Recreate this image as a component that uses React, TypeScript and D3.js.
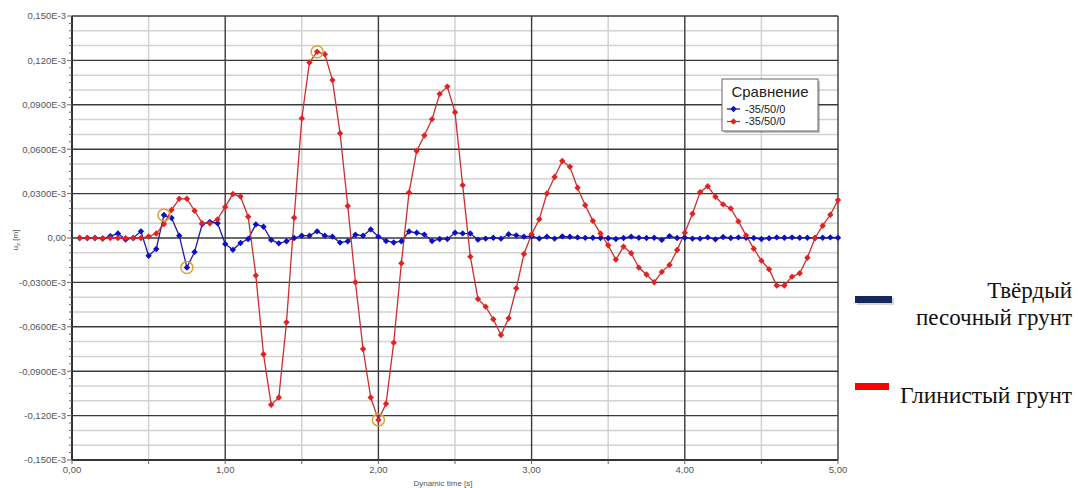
import * as d3 from "d3";

// time step 0.05 s, values in 1e-6 m (axis shows E-3 m)
const times = d3.range(1, 101).map((i) => +(i * 0.05).toFixed(2));

const sandValues = [
  0, 0, 0, -0.4, 1.3, 3, -1, 0, 4.5, -12,
  -7.4, 15.5, 13.5, 1.6, -20, -9.4, 9.4, 10.8, 10, -4,
  -8, -3.4, -0.7, 9.2, 7.6, -1.3, -3.6, -2.2, 0, 1.6,
  1.6, 4.5, 1.6, 0.9, -3.1, -2.2, 2.2, 1.6, 5.8, 0.9,
  -2, -3, -2.2, 4.4, 3.5, 2.3, -2, -0.7, -0.7, 3.5,
  3.1, 3, -1.1, -0.4, 0.2, -0.4, 2.5, 1.8, 0.9, 1.2,
  -0.3, 0.9, -0.4, 1.1, 0.8, 0.4, 0.1, 0.2, 0, -0.2,
  -0.7, 0, 0.9, 0.2, 0, 0.2, -1.3, 1.3, 0, 0.2,
  -0.4, -0.4, 0.4, -0.9, 0.7, 0, 0.4, 0.2, 0, -0.7,
  -0.2, 0.4, 0.2, 0.4, 0.2, 0.2, 0, 0.2, 0.4, 0.2,
];

const clayValues = [
  0, 0, 0, -0.2, 0, 0, -0.2, 0, 0, 1,
  3, 9.4, 19, 26.5, 26.5, 18.4, 10, 10, 12.6, 21,
  29.7, 28, 14.4, -25.3, -78.5, -112.7, -107.8, -57, 13.7, 80.8,
  118.6, 125.8, 124.2, 106.7, 70.7, 21.6, -29.9, -75, -107.8, -122.9,
  -112, -70.7, -17.1, 30.7, 58.8, 69.3, 80.3, 97.3, 102.3, 85,
  35.7, -12.6, -41.2, -46.4, -54.9, -65.5, -54.2, -34, -10.8, 2.5,
  12.6, 30.1, 41.2, 52, 48.1, 34, 22.1, 11.6, 3, -4.9,
  -14.6, -5.8, -10.3, -20, -24.7, -29.9, -22.9, -18.2, -8.1, 3.6,
  16.4, 31, 35, 27.9, 22.7, 20, 11.2, 1.8, -7.2, -15.3,
  -21.1, -32.1, -32.1, -26.1, -23.8, -13.3, 0, 8.3, 15.7, 25.6,
];

const yTicks = [150, 120, 90, 60, 30, 0, -30, -60, -90, -120, -150];
const yTickLabels = [
  "0,150E-3", "0,120E-3", "0,0900E-3", "0,0600E-3", "0,0300E-3", "0,00",
  "-0,0300E-3", "-0,0600E-3", "-0,0900E-3", "-0,120E-3", "-0,150E-3",
];
const xTicks = [0, 1, 2, 3, 4, 5];
const xTickLabels = ["0,00", "1,00", "2,00", "3,00", "4,00", "5,00"];

// highlighted points (orange rings)
const clayMarked = [1.6, 2.0];
const sandMarked = [0.6, 0.75];

const legendTitle = "Сравнение";
const seriesName = "-35/50/0";

export default function App() {
  const left = 72, right = 838, top = 16, bottom = 460;
  const x = d3.scaleLinear().domain([0, 5]).range([left, right]);
  const y = d3.scaleLinear().domain([-150, 150]).range([bottom, top]);

  const sand = times.map((t, i) => ({ t, v: sandValues[i] }));
  const clay = times.map((t, i) => ({ t, v: clayValues[i] }));
  const line = d3
    .line<{ t: number; v: number }>()
    .x((d) => x(d.t))
    .y((d) => y(d.v));

  const minorY = d3.range(-150, 151, 10).filter((v) => v % 30 !== 0);
  const minorTicksY = d3.range(-150, 151, 5);
  const halfX = [0.5, 1.5, 2.5, 3.5, 4.5];

  const font = "'Liberation Sans', Arial, sans-serif";
  const serif = "'Liberation Serif', 'Times New Roman', serif";

  const marker = (cx: number, cy: number, fill: string, key: string) => (
    <path
      key={key}
      d={`M${cx},${cy - 3.2}L${cx + 3.2},${cy}L${cx},${cy + 3.2}L${cx - 3.2},${cy}Z`}
      fill={fill}
    />
  );

  return (
    <svg
      width={1078}
      height={488}
      style={{ position: "absolute", left: 0, top: 0, background: "#fff" }}
    >
      <rect x={0} y={0} width={1078} height={488} fill="#fff" />
      {/* minor grid */}
      {minorY.map((v) => (
        <line key={"my" + v} x1={left} x2={right} y1={y(v)} y2={y(v)} stroke="#d2d2d2" strokeWidth={1.5} />
      ))}
      {halfX.map((t) => (
        <line key={"mx" + t} x1={x(t)} x2={x(t)} y1={top} y2={bottom} stroke="#d2d2d2" strokeWidth={1.5} />
      ))}
      {/* major grid */}
      {yTicks.map((v) => (
        <line key={"gy" + v} x1={left} x2={right} y1={y(v)} y2={y(v)} stroke="#3a3a3a" strokeWidth={1.4} />
      ))}
      {xTicks.map((t) => (
        <line key={"gx" + t} x1={x(t)} x2={x(t)} y1={top} y2={bottom} stroke="#3a3a3a" strokeWidth={1.4} />
      ))}
      <line x1={left} x2={right} y1={bottom} y2={bottom} stroke="#333" strokeWidth={2} />
      <line x1={left} x2={left} y1={top} y2={bottom} stroke="#333" strokeWidth={2} />
      {/* axis ticks */}
      {minorTicksY.map((v) => (
        <line key={"ty" + v} x1={left - (v % 30 === 0 ? 5 : 3)} x2={left} y1={y(v)} y2={y(v)} stroke="#666" strokeWidth={1} />
      ))}
      {d3.range(0, 5.01, 0.5).map((t) => (
        <line key={"tx" + t} x1={x(t)} x2={x(t)} y1={bottom} y2={bottom + 4} stroke="#666" strokeWidth={1} />
      ))}
      {yTicks.map((v, i) => (
        <text key={"ly" + v} x={left - 6} y={y(v)} dy="0.35em" textAnchor="end" fontFamily={font} fontSize={9.5} fill="#555">
          {yTickLabels[i]}
        </text>
      ))}
      {xTicks.map((t, i) => (
        <text key={"lx" + t} x={x(t)} y={bottom + 13} textAnchor="middle" fontFamily={font} fontSize={9.5} fill="#555">
          {xTickLabels[i]}
        </text>
      ))}
      <text x={443} y={486} textAnchor="middle" fontFamily={font} fontSize={8} fill="#555">
        Dynamic time [s]
      </text>
      <text transform="translate(18,240) rotate(-90)" textAnchor="middle" fontFamily={font} fontSize={8} fill="#555">
        u<tspan fontSize={6} dy={2}>z</tspan>
        <tspan dy={-2}> [m]</tspan>
      </text>

      {/* series */}
      <path d={line(sand) || ""} fill="none" stroke="#1c1ca8" strokeWidth={1.3} />
      <path d={line(clay) || ""} fill="none" stroke="#c83030" strokeWidth={1.3} />
      {sand.map((d, i) => marker(x(d.t), y(d.v), "#0a10c8", "s" + i))}
      {clay.map((d, i) => marker(x(d.t), y(d.v), "#e42020", "c" + i))}
      {clay
        .filter((d) => clayMarked.includes(d.t))
        .map((d, i) => (
          <circle key={"cm" + i} cx={x(d.t)} cy={y(d.v)} r={6} fill="none" stroke="#d9a03c" strokeWidth={1.5} />
        ))}
      {sand
        .filter((d) => sandMarked.includes(d.t))
        .map((d, i) => (
          <circle key={"sm" + i} cx={x(d.t)} cy={y(d.v)} r={6} fill="none" stroke="#d9a03c" strokeWidth={1.5} />
        ))}

      {/* inner legend */}
      <rect x={724} y={81} width={96} height={52} fill="#5a5a5a" opacity={0.35} />
      <rect x={722} y={79} width={96} height={52} fill="#fff" stroke="#666" strokeWidth={1} />
      <text x={770} y={97} textAnchor="middle" fontFamily={font} fontSize={15} fill="#222">
        {legendTitle}
      </text>
      <line x1={727} x2={740} y1={109} y2={109} stroke="#1c1ca8" strokeWidth={1.3} />
      {marker(733.5, 109, "#0a10c8", "l1")}
      <text x={745} y={109} dy="0.35em" fontFamily={font} fontSize={11} fill="#222">
        {seriesName}
      </text>
      <line x1={727} x2={740} y1={121.5} y2={121.5} stroke="#c83030" strokeWidth={1.3} />
      {marker(733.5, 121.5, "#e42020", "l2")}
      <text x={745} y={121.5} dy="0.35em" fontFamily={font} fontSize={11} fill="#222">
        {seriesName}
      </text>

      {/* outer legend */}
      <rect x={857} y={298} width={37} height={7} fill="#888" opacity={0.35} />
      <rect x={855} y={296} width={37} height={7} fill="#14285e" />
      <text x={1072} y={298} textAnchor="end" fontFamily={serif} fontSize={23} fill="#111">
        Твёрдый
      </text>
      <text x={1072} y={325} textAnchor="end" fontFamily={serif} fontSize={23} fill="#111">
        песочный грунт
      </text>
      <rect x={855} y={383} width={34} height={7} fill="#ff0000" />
      <text x={1072} y={403} textAnchor="end" fontFamily={serif} fontSize={23.5} fill="#111">
        Глинистый грунт
      </text>
    </svg>
  );
}
